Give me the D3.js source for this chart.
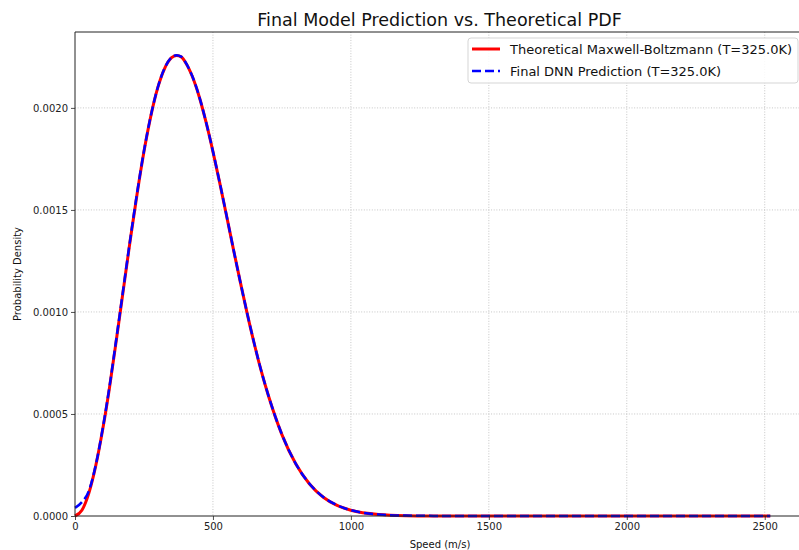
<!DOCTYPE html>
<html>
<head>
<meta charset="utf-8">
<script src="https://cdn.jsdelivr.net/npm/d3@7"></script>
<style>
  html, body { margin: 0; padding: 0; background: #ffffff; }
  svg { display: block; font-family: "DejaVu Sans", sans-serif; }
</style>
</head>
<body>
<svg id="chart" width="799" height="550"></svg>
<script>
// Speed samples (m/s)
const speeds = [0, 25, 50, 75, 100, 125, 150, 175, 200, 225, 250, 275, 300, 325, 350, 368, 385, 400, 425, 450, 475, 500, 525, 550, 575, 600, 625, 650, 675, 700, 750, 800, 850, 900, 950, 1000, 1100, 1200, 1300, 1400, 1600, 1800, 2000, 2200, 2400, 2520];

// Theoretical Maxwell-Boltzmann density at T = 325 K
const theoretical = [0, 0.0000282, 0.000111, 0.000245, 0.000421, 0.000629, 0.000864, 0.001107, 0.001350, 0.001578, 0.001786, 0.001961, 0.002099, 0.002194, 0.002246, 0.002257, 0.002250, 0.002224, 0.002155, 0.002056, 0.001930, 0.001786, 0.001630, 0.001467, 0.001302, 0.001141, 0.000987, 0.000843, 0.000711, 0.000594, 0.000399, 0.000256, 0.000157, 0.0000921, 0.0000518, 0.0000279, 0.0000072, 0.0000016, 0.0000003, 0, 0, 0, 0, 0, 0, 0];

// Network output after training, same speed grid
const predicted = [0.000040, 0.000068, 0.000122, 0.000248, 0.000425, 0.000634, 0.000870, 0.001112, 0.001354, 0.001582, 0.001789, 0.001963, 0.002100, 0.002195, 0.002247, 0.002258, 0.002251, 0.002225, 0.002156, 0.002057, 0.001931, 0.001787, 0.001631, 0.001468, 0.001303, 0.001142, 0.000988, 0.000844, 0.000712, 0.000595, 0.000400, 0.000257, 0.000158, 0.0000928, 0.0000525, 0.0000285, 0.0000078, 0.0000020, 0.0000006, 0.0000003, 0.0000002, 0.0000002, 0.0000002, 0.0000002, 0.0000002, 0.0000002];

const xTicks = [0, 500, 1000, 1500, 2000, 2500];
const yTicks = [0, 0.0005, 0.0010, 0.0015, 0.0020];

const titleText = "Final Model Prediction vs. Theoretical PDF";
const xLabel = "Speed (m/s)";
const yLabel = "Probability Density";
const legendLabels = ["Theoretical Maxwell-Boltzmann (T=325.0K)", "Final DNN Prediction (T=325.0K)"];

const svg = d3.select("#chart");
const plot = { left: 75, right: 805, top: 32, bottom: 516 };

const x = d3.scaleLinear().domain([0, 2646]).range([plot.left, plot.right]);
const y = d3.scaleLinear().domain([0, 0.002372]).range([plot.bottom, plot.top]);

// Grid
const grid = svg.append("g").attr("class", "grid");
grid.selectAll("line.gx").data(xTicks.filter(d => d > 0)).enter().append("line")
  .attr("x1", d => x(d)).attr("x2", d => x(d))
  .attr("y1", plot.top).attr("y2", plot.bottom)
  .attr("stroke", "#b8b8b8").attr("stroke-width", 0.8).attr("stroke-dasharray", "1,1.65");
grid.selectAll("line.gy").data(yTicks.filter(d => d > 0)).enter().append("line")
  .attr("x1", plot.left).attr("x2", plot.right)
  .attr("y1", d => y(d)).attr("y2", d => y(d))
  .attr("stroke", "#b8b8b8").attr("stroke-width", 0.8).attr("stroke-dasharray", "1,1.65");

// Curves
const pts = vals => speeds.map((s, i) => [s, vals[i]]);
const line = d3.line().x(d => x(d[0])).y(d => y(d[1])).curve(d3.curveMonotoneX);

svg.append("path").datum(pts(theoretical))
  .attr("d", line).attr("fill", "none")
  .attr("stroke", "#ff0000").attr("stroke-width", 3).attr("stroke-linejoin", "round");

svg.append("path").datum(pts(predicted))
  .attr("d", line).attr("fill", "none")
  .attr("stroke", "#0000ff").attr("stroke-width", 2.5).attr("stroke-dasharray", "9,4");

// Axes
const xAxis = d3.axisBottom(x).tickValues(xTicks).tickFormat(d3.format("d")).tickSize(4).tickPadding(3);
const yAxis = d3.axisLeft(y).tickValues(yTicks).tickFormat(d3.format(".4f")).tickSize(4).tickPadding(3);

const gx = svg.append("g").attr("transform", `translate(0,${plot.bottom})`).call(xAxis);
const gy = svg.append("g").attr("transform", `translate(${plot.left},0)`).call(yAxis);
[gx, gy].forEach(g => {
  g.select(".domain").remove();
  g.selectAll("text").attr("font-size", 10).attr("fill", "#222").attr("font-family", "DejaVu Sans, sans-serif");
  g.selectAll(".tick line").attr("stroke", "#222").attr("stroke-width", 0.8);
});

// Spines
svg.append("line").attr("x1", plot.left).attr("x2", plot.right).attr("y1", plot.bottom).attr("y2", plot.bottom)
  .attr("stroke", "#222").attr("stroke-width", 1);
svg.append("line").attr("x1", plot.left).attr("x2", plot.right).attr("y1", plot.top).attr("y2", plot.top)
  .attr("stroke", "#222").attr("stroke-width", 1);
svg.append("line").attr("x1", plot.left).attr("x2", plot.left).attr("y1", plot.top).attr("y2", plot.bottom)
  .attr("stroke", "#222").attr("stroke-width", 1);
svg.append("line").attr("x1", plot.right).attr("x2", plot.right).attr("y1", plot.top).attr("y2", plot.bottom)
  .attr("stroke", "#222").attr("stroke-width", 1);

// Titles
svg.append("text").attr("x", 439.5).attr("y", 26).attr("text-anchor", "middle")
  .attr("font-size", 17.5).attr("fill", "#111").text(titleText);
svg.append("text").attr("x", 440).attr("y", 548).attr("text-anchor", "middle")
  .attr("font-size", 10).attr("fill", "#111").text(xLabel);
svg.append("text").attr("transform", `translate(21,${(plot.top + plot.bottom) / 2}) rotate(-90)`)
  .attr("text-anchor", "middle").attr("font-size", 10).attr("fill", "#111").text(yLabel);

// Legend
const legend = svg.append("g").attr("transform", "translate(468,38)");
legend.append("rect").attr("width", 330).attr("height", 45).attr("rx", 3)
  .attr("fill", "#ffffff").attr("fill-opacity", 0.85).attr("stroke", "#d5d5d5").attr("stroke-width", 1);
const legendStyles = [
  { color: "#ff0000", width: 3, dash: null },
  { color: "#0000ff", width: 2.5, dash: "9,4" }
];
legendLabels.forEach((label, i) => {
  const cy = 11 + i * 22;
  legend.append("line").attr("x1", 4).attr("x2", 32).attr("y1", cy).attr("y2", cy)
    .attr("stroke", legendStyles[i].color).attr("stroke-width", legendStyles[i].width)
    .attr("stroke-dasharray", legendStyles[i].dash);
  legend.append("text").attr("x", 42).attr("y", cy + 5).attr("font-size", 13)
    .attr("fill", "#111").text(label);
});
</script>
</body>
</html>
